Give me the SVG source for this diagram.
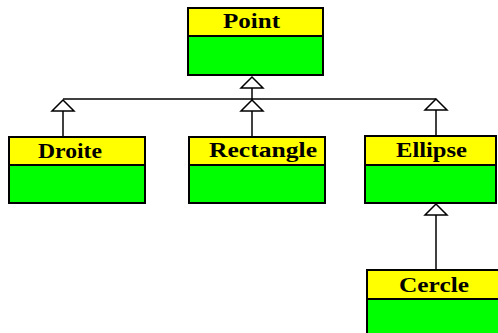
<svg xmlns="http://www.w3.org/2000/svg" width="498" height="333" viewBox="0 0 498 333">
<defs>
<style>
.hdr{fill:#ffff00;stroke:#000;stroke-width:2}
.body{fill:#00ff00;stroke:#000;stroke-width:2}
.lbl{font-family:"Liberation Serif","Times New Roman",serif;font-weight:bold;font-size:22px;fill:#000}
.ln{stroke:#000;stroke-width:1.5;fill:none}
.tri{fill:#fff;stroke:#000;stroke-width:1.5}
</style>
</defs>
<rect width="498" height="333" fill="#fff"/>
<g id="connectors">
<line class="ln" x1="252" y1="88" x2="252" y2="137"/>
<line class="ln" x1="63" y1="99" x2="436" y2="99"/>
<line class="ln" x1="63" y1="111" x2="63" y2="137"/>
<line class="ln" x1="436" y1="110" x2="436" y2="136"/>
<line class="ln" x1="436" y1="215" x2="436" y2="270"/>
<polygon class="tri" points="252,77 241,88 263,88"/>
<polygon class="tri" points="252,100 241,111 263,111"/>
<polygon class="tri" points="63,100 52,111 74,111"/>
<polygon class="tri" points="436,99 425,110 447,110"/>
<polygon class="tri" points="436,204 425,215 447,215"/>
</g>
<g id="Point">
<rect class="body" x="188" y="36" width="135" height="39"/>
<rect class="hdr" x="188" y="8" width="135" height="28"/>
<text class="lbl" x="223" y="28" textLength="57" lengthAdjust="spacingAndGlyphs">Point</text>
</g>
<g id="Droite">
<rect class="body" x="9" y="165" width="136" height="38"/>
<rect class="hdr" x="9" y="137" width="136" height="28"/>
<text class="lbl" x="38" y="158" textLength="64" lengthAdjust="spacingAndGlyphs">Droite</text>
</g>
<g id="Rectangle">
<rect class="body" x="189" y="165" width="136" height="38"/>
<rect class="hdr" x="189" y="137" width="136" height="28"/>
<text class="lbl" x="209" y="157" textLength="108" lengthAdjust="spacingAndGlyphs">Rectangle</text>
</g>
<g id="Ellipse">
<rect class="body" x="365" y="165" width="131" height="38"/>
<rect class="hdr" x="365" y="136" width="131" height="29"/>
<text class="lbl" x="396" y="157" textLength="71" lengthAdjust="spacingAndGlyphs">Ellipse</text>
</g>
<g id="Cercle">
<rect class="body" x="367" y="299" width="135" height="40"/>
<rect class="hdr" x="367" y="270" width="135" height="29"/>
<text class="lbl" x="399" y="292" textLength="70" lengthAdjust="spacingAndGlyphs">Cercle</text>
</g>
</svg>
